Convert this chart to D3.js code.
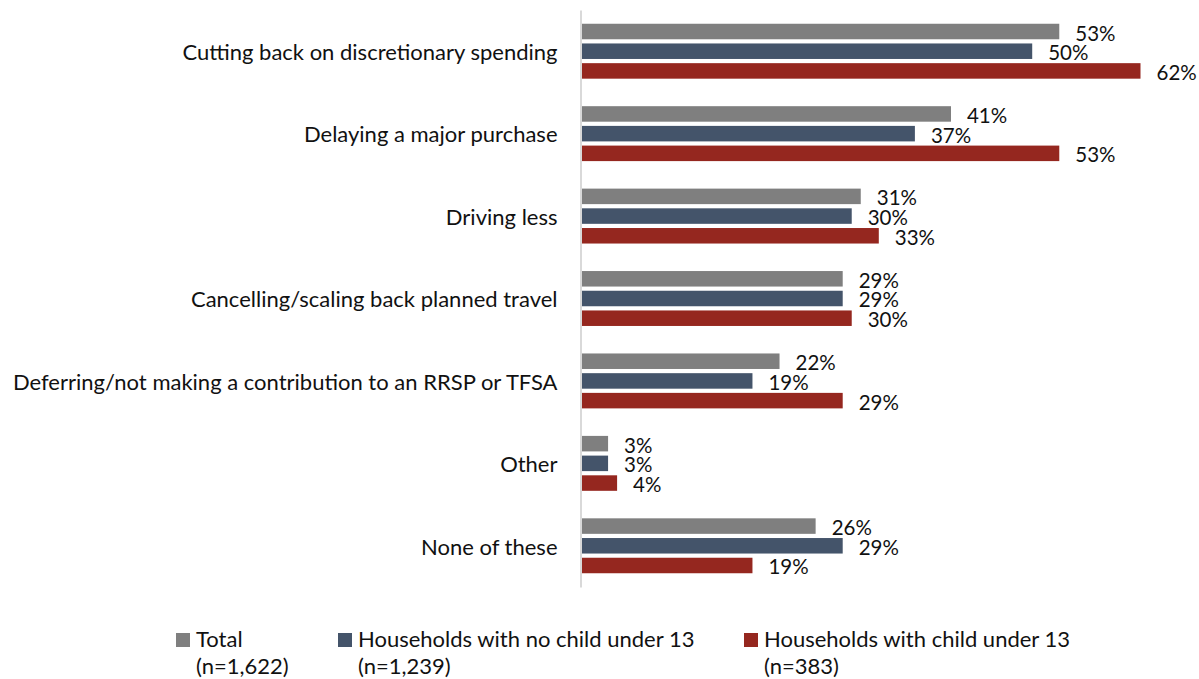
<!DOCTYPE html>
<html>
<head>
<meta charset="utf-8">
<script src="https://cdn.jsdelivr.net/npm/d3@7"></script>
<style>
  html, body { margin: 0; padding: 0; background: #fff; }
  svg { display: block; }
  text { font-family: Lato, "Open Sans", sans-serif; fill: #111; }
</style>
</head>
<body>
<svg id="chart" width="1199" height="679"></svg>
<script>
// Spending actions by household type (% of respondents)
const categories = [
  "Cutting back on discretionary spending",
  "Delaying a major purchase",
  "Driving less",
  "Cancelling/scaling back planned travel",
  "Deferring/not making a contribution to an RRSP or TFSA",
  "Other",
  "None of these"
];
const seriesNames = ["Total", "Households with no child under 13", "Households with child under 13"];
const seriesSizes = ["(n=1,622)", "(n=1,239)", "(n=383)"];
const totalValues = [53, 41, 31, 29, 22, 3, 26];
const noChildValues = [50, 37, 30, 29, 19, 3, 29];
const childValues = [62, 53, 33, 30, 29, 4, 19];
const seriesColors = ["#7f7f7f", "#44546a", "#95271f"];

const seriesValues = [totalValues, noChildValues, childValues];
const rows = categories.map((c, i) => ({
  category: c,
  values: seriesNames.map((s, j) => ({ series: s, value: seriesValues[j][i], color: seriesColors[j] }))
}));

const svg = d3.select("#chart");
const fontSize = 22;
const valueFontSize = 20.5;

const x = d3.scaleLinear().domain([0, 62]).range([581, 1140.5]);
const y = d3.scaleBand().domain(categories).range([10, 587]);
const yInner = d3.scaleBand().domain(seriesNames).range([0, y.bandwidth()])
  .paddingInner(0.213).paddingOuter(0.698);

// bars
const groups = svg.append("g").selectAll("g")
  .data(rows).join("g")
  .attr("transform", d => `translate(0,${y(d.category)})`);

groups.selectAll("rect")
  .data(d => d.values).join("rect")
  .attr("x", x(0))
  .attr("y", d => yInner(d.series))
  .attr("width", d => x(d.value) - x(0))
  .attr("height", yInner.bandwidth())
  .attr("fill", d => d.color);

// value labels
groups.selectAll("text.value")
  .data(d => d.values).join("text")
  .attr("class", "value")
  .attr("x", d => x(d.value) + 16)
  .attr("y", d => yInner(d.series) + yInner.bandwidth() / 2 + 1)
  .attr("dominant-baseline", "central")
  .style("font-size", valueFontSize + "px")
  .text(d => d.value + "%");

// category axis
const axis = svg.append("g")
  .attr("transform", `translate(${x(0) - 0.5},0)`)
  .call(d3.axisLeft(y).tickSize(0).tickPadding(23));
axis.select(".domain").attr("stroke", "#d9d9d9").attr("stroke-width", 2);
axis.selectAll(".tick text")
  .style("font-size", fontSize + "px")
  .style("font-family", "Lato, 'Open Sans', sans-serif")
  .attr("fill", "#111")
  .attr("dy", "0.4em");

// legend
const legendX = [176, 338, 744];
const legend = svg.append("g").selectAll("g")
  .data(seriesNames).join("g")
  .attr("transform", (d, i) => `translate(${legendX[i]},0)`);
legend.append("rect")
  .attr("x", 0).attr("y", 633)
  .attr("width", 14).attr("height", 14)
  .attr("fill", (d, i) => seriesColors[i]);
legend.append("text")
  .attr("x", 20).attr("y", 647)
  .style("font-size", fontSize + "px")
  .text(d => d);
legend.append("text")
  .attr("x", 20).attr("y", 674)
  .style("font-size", fontSize + "px")
  .text((d, i) => seriesSizes[i]);
</script>
</body>
</html>
